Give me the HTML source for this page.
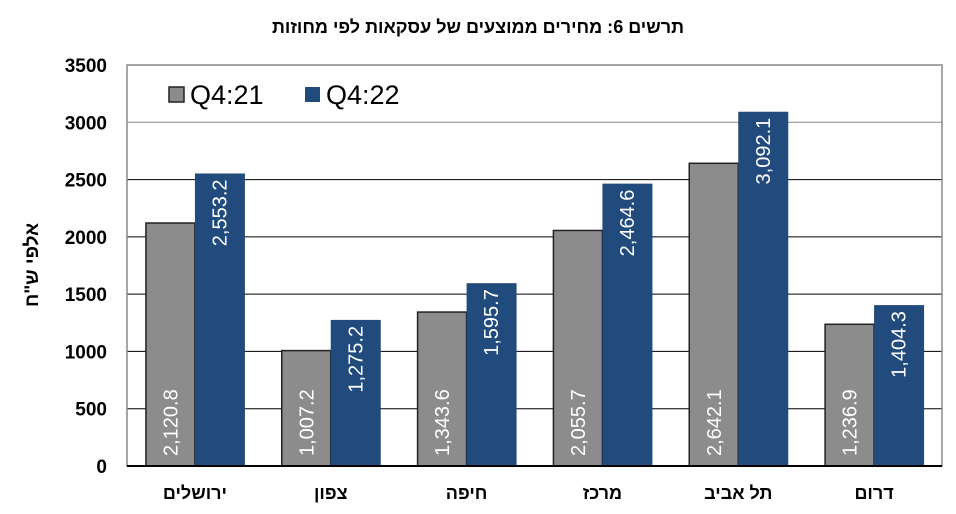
<!DOCTYPE html>
<html><head><meta charset="utf-8">
<style>
body{margin:0;background:#fff;}
svg{display:block;font-family:"Liberation Sans",Arial,sans-serif;}
</style></head>
<body>
<svg id="chart" width="956" height="514" viewBox="0 0 956 514" xmlns="http://www.w3.org/2000/svg">
<text x="478" y="33" text-anchor="middle" font-size="18" font-weight="bold" direction="rtl" font-family="'Liberation Sans','DejaVu Sans',sans-serif">תרשים 6: מחירים ממוצעים של עסקאות לפי מחוזות</text>
<text transform="translate(38,265) rotate(-90)" text-anchor="middle" font-size="19" font-weight="bold" direction="rtl" font-family="'Liberation Sans','DejaVu Sans',sans-serif">אלפי ש"ח</text>
<g id="grid"></g>
<g id="bars"></g>
<g id="labels"></g>
<rect x="127" y="65" width="815" height="401" fill="none" stroke="#888" stroke-width="1.5"/>
<line x1="127" y1="466" x2="942" y2="466" stroke="#000" stroke-width="2"/>
<g>
<rect x="169" y="87" width="15" height="15" fill="#8c8c8c" stroke="#222" stroke-width="1.5"/>
<text x="190" y="104" font-size="27">Q4:21</text>
<rect x="305" y="87" width="15" height="15" fill="#214a7d"/>
<text x="326" y="104" font-size="27">Q4:22</text>
</g>
</svg>
<script>
const categories = ["ירושלים","צפון","חיפה","מרכז","תל אביב","דרום"];
const seriesQ421 = [2120.8,1007.2,1343.6,2055.7,2642.1,1236.9];
const seriesQ422 = [2553.2,1275.2,1595.7,2464.6,3092.1,1404.3];
const yTicks = [0,500,1000,1500,2000,2500,3000,3500];
const NS="http://www.w3.org/2000/svg";
const X0=127,X1=942,Y0=466,Y1=65,YMAX=3500;
const y=v=>Y0-(v/YMAX)*(Y0-Y1);
const gw=(X1-X0)/categories.length;
const gx=i=>X0+gw*i;
const bw=49;
function mk(t,a,p){const e=document.createElementNS(NS,t);for(const k in a)e.setAttribute(k,a[k]);p.appendChild(e);return e;}
const fmt=v=>v.toLocaleString("en-US",{minimumFractionDigits:1,maximumFractionDigits:1});
const grid=document.getElementById("grid"),bars=document.getElementById("bars"),labels=document.getElementById("labels");
yTicks.forEach(t=>{
  if(t>0&&t<YMAX){const l=mk("line",{x1:X0,x2:X1,y1:y(t),y2:y(t),stroke:t===3000?"#888":"#000","stroke-width":1},grid);
  
  }
  const tx=mk("text",{x:107,y:y(t)+7,"text-anchor":"end","font-size":19,"font-weight":"bold"},labels);
  tx.textContent=t;
  
  
});
categories.forEach((c,i)=>{
  const cx=gx(i)+gw/2;
  const a=seriesQ421[i],b=seriesQ422[i];
  const r1=mk("rect",{x:cx-bw,y:y(a),width:bw,height:Y0-y(a),fill:"#8c8c8c",stroke:"#222","stroke-width":1.5},bars);
  
  
  const r2=mk("rect",{x:cx,y:y(b),width:bw+1,height:Y0-y(b),fill:"#214a7d"},bars);
  
  
  const t1=mk("text",{transform:`translate(${cx-bw/2+7},${Y0-10}) rotate(-90)`,"font-size":20,fill:"#fff","text-anchor":"start"},labels);
  t1.textContent=fmt(a);
  
  
  const t2=mk("text",{transform:`translate(${cx+bw/2+7},${y(b)+6}) rotate(-90)`,"font-size":20,fill:"#fff","text-anchor":"end"},labels);
  t2.textContent=fmt(b);
  
  
  const cl=mk("text",{x:cx,y:499,"text-anchor":"middle","font-size":18,"font-weight":"bold",direction:"rtl","font-family":"'Liberation Sans','DejaVu Sans',sans-serif"},labels);
  cl.textContent=c;
  
  
});
</script>
</body></html>
